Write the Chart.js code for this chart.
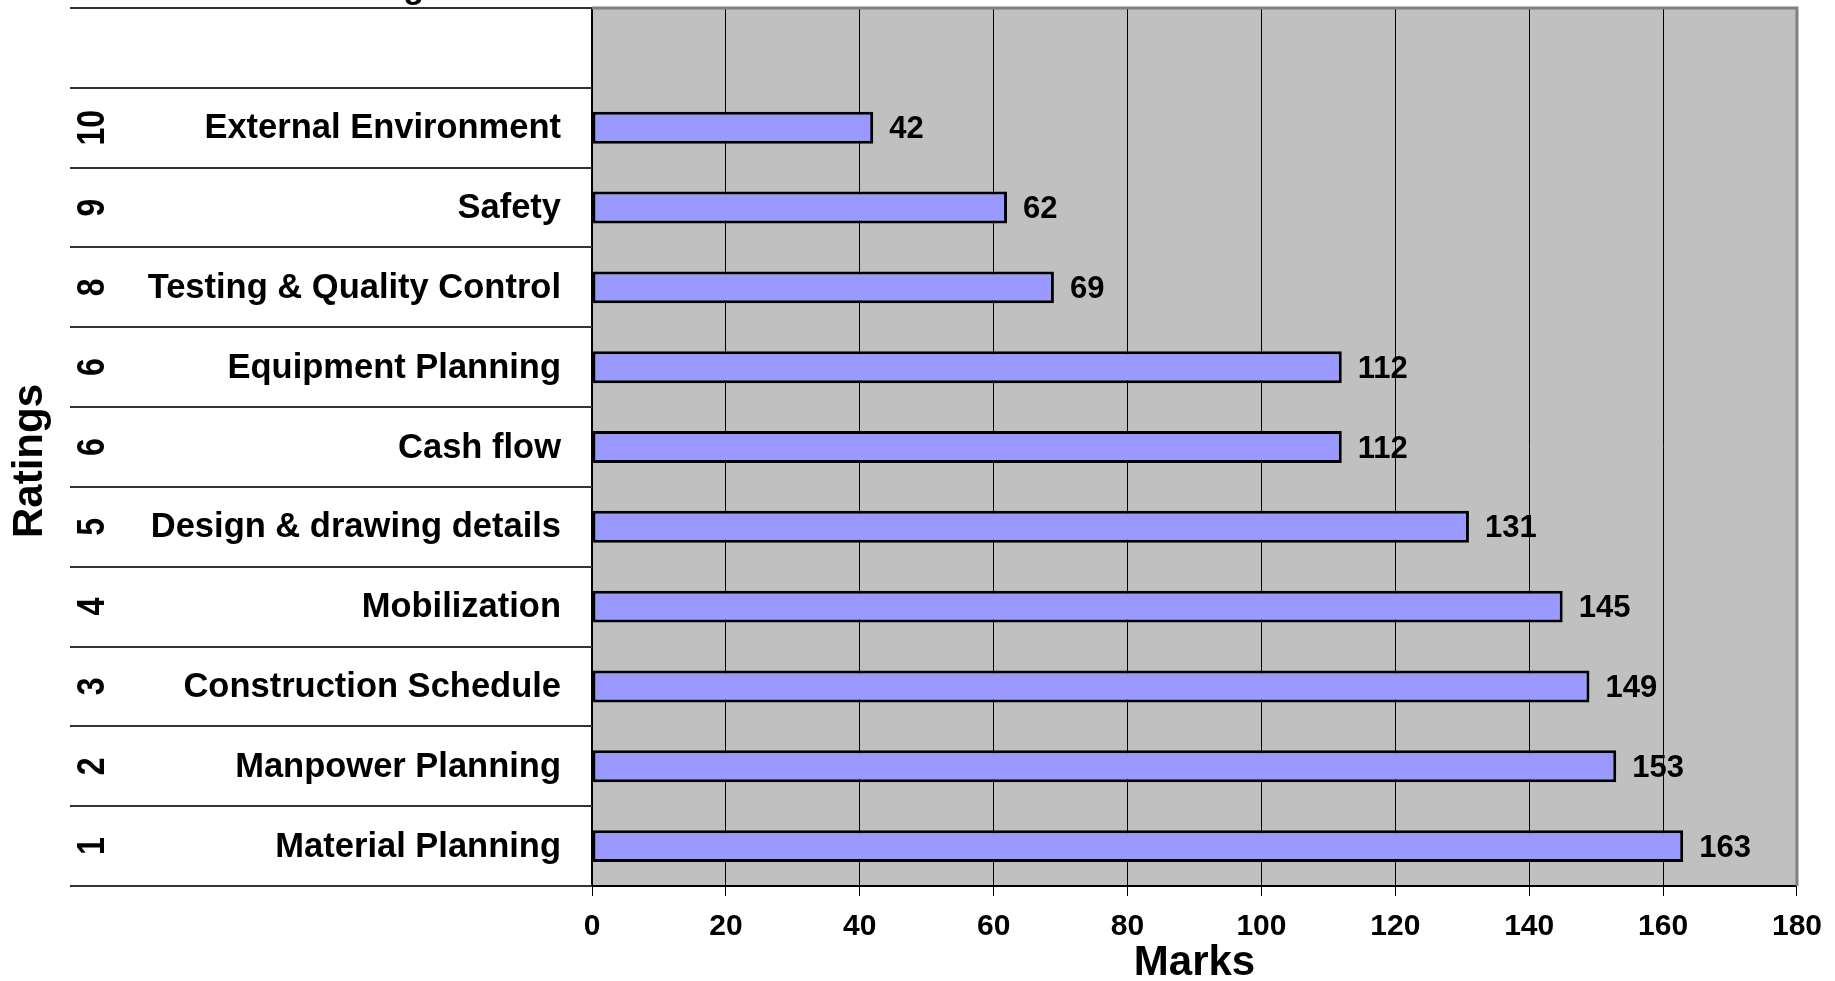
<!DOCTYPE html>
<html>
<head>
<meta charset="utf-8">
<script src="https://cdn.jsdelivr.net/npm/chart.js@4.4.1/dist/chart.umd.min.js"></script>
<style>
  html, body { margin: 0; padding: 0; background: #fff; }
  canvas { display: block; }
</style>
</head>
<body>
<canvas id="myChart" width="1835" height="981"></canvas>
<script>
const categories = [
    "External Environment",
    "Safety",
    "Testing & Quality Control",
    "Equipment Planning",
    "Cash flow",
    "Design & drawing details",
    "Mobilization",
    "Construction Schedule",
    "Manpower Planning",
    "Material Planning"
];
const ratings = [10, 9, 8, 6, 6, 5, 4, 3, 2, 1];
const marks = [42, 62, 69, 112, 112, 131, 145, 149, 153, 163];
const xTicks = [0, 20, 40, 60, 80, 100, 120, 140, 160, 180];

const FONT = "'Liberation Sans', Arial, sans-serif";

// first row of the plot is left empty, like the original sheet
const labels = [""].concat(categories);
const values = [null].concat(marks);

// grey plot background + value labels (drawn before the grid so the lines sit over them)
const backgroundAndValues = {
    id: "backgroundAndValues",
    beforeDraw(chart) {
        const ctx = chart.ctx;
        const area = chart.chartArea;
        const x = chart.scales.x;
        const y = chart.scales.y;
        ctx.save();
        ctx.fillStyle = "#ffffff";
        ctx.fillRect(0, 0, chart.width, chart.height);
        ctx.fillStyle = "#c0c0c0";
        ctx.fillRect(area.left, area.top, area.right - area.left, area.bottom - area.top);

        ctx.fillStyle = "#000";
        ctx.font = "bold 31px " + FONT;
        ctx.textAlign = "left";
        ctx.textBaseline = "middle";
        marks.forEach((m, i) => {
            ctx.fillText(String(m), x.getPixelForValue(m) + 16, y.getPixelForValue(i + 1) + 2);
        });
        ctx.restore();
    }
};

// table on the left: row lines, rating numbers, category names, axis title
const ratingTable = {
    id: "ratingTable",
    afterDraw(chart) {
        const ctx = chart.ctx;
        const area = chart.chartArea;
        const y = chart.scales.y;
        const step = (area.bottom - area.top) / labels.length;
        ctx.save();

        ctx.strokeStyle = "#333";
        ctx.lineWidth = 2;
        for (let k = 0; k <= labels.length; k++) {
            const ly = Math.round(area.top + k * step);
            ctx.beginPath();
            ctx.moveTo(70, ly);
            ctx.lineTo(area.left, ly);
            ctx.stroke();
        }

        ctx.fillStyle = "#000";
        ctx.textBaseline = "middle";
        categories.forEach((name, i) => {
            const cy = y.getPixelForValue(i + 1);
            ctx.font = "bold 34.5px " + FONT;
            ctx.textAlign = "right";
            ctx.fillText(name, 561, cy + 1);

            // rating numbers are written sideways, tall and narrow
            ctx.save();
            ctx.translate(93, cy);
            ctx.rotate(-Math.PI / 2);
            ctx.scale(1, 1.2);
            ctx.font = "bold 32px " + FONT;
            ctx.textAlign = "center";
            ctx.fillText(String(ratings[i]), 0, 0);
            ctx.restore();
        });

        ctx.save();
        ctx.translate(30, (area.top + area.bottom) / 2 + 14);
        ctx.rotate(-Math.PI / 2);
        ctx.font = "bold 42px " + FONT;
        ctx.textAlign = "center";
        ctx.fillText("Ratings", 0, 0);
        ctx.restore();

        // header of the table, mostly above the top edge
        ctx.font = "bold 34px " + FONT;
        ctx.textAlign = "right";
        ctx.textBaseline = "alphabetic";
        ctx.fillText("Rating", 424, -2);

        // grey frame on top and right of the plot
        ctx.strokeStyle = "#808080";
        ctx.lineWidth = 3;
        ctx.beginPath();
        ctx.moveTo(area.left, area.top);
        ctx.lineTo(area.right, area.top);
        ctx.lineTo(area.right, area.bottom);
        ctx.stroke();
        ctx.restore();
    }
};

const config = {
    type: "bar",
    data: {
        labels: labels,
        datasets: [{
            label: "Marks",
            data: values,
            backgroundColor: "#9999ff",
            borderColor: "#000",
            borderWidth: 3,
            borderSkipped: false,
            barPercentage: 0.4,
            categoryPercentage: 1
        }]
    },
    options: {
        indexAxis: "y",
        responsive: false,
        animation: false,
        devicePixelRatio: 1,
        layout: { padding: { top: 8, right: 37, left: 0, bottom: 0 } },
        plugins: {
            legend: { display: false },
            tooltip: { enabled: false }
        },
        scales: {
            x: {
                min: 0,
                max: 180,
                afterBuildTicks(scale) {
                    scale.ticks = xTicks.map(v => ({ value: v }));
                },
                afterFit(scale) { scale.height = 95; },
                grid: { color: "#000", lineWidth: 1, tickLength: 10, tickColor: "#000" },
                border: { color: "#000", width: 2 },
                ticks: {
                    color: "#000",
                    padding: 13,
                    maxRotation: 0,
                    font: { family: FONT, size: 30, weight: "bold" }
                },
                title: {
                    display: true,
                    text: "Marks",
                    color: "#000",
                    padding: 0,
                    font: { family: FONT, size: 42, weight: "bold", lineHeight: 0.85 }
                }
            },
            y: {
                afterFit(scale) { scale.width = 592; },
                grid: { display: false },
                border: { color: "#000", width: 2 },
                ticks: { display: false }
            }
        }
    },
    plugins: [backgroundAndValues, ratingTable]
};

const chart = new Chart(document.querySelector("#myChart"), config);
</script>
</body>
</html>
